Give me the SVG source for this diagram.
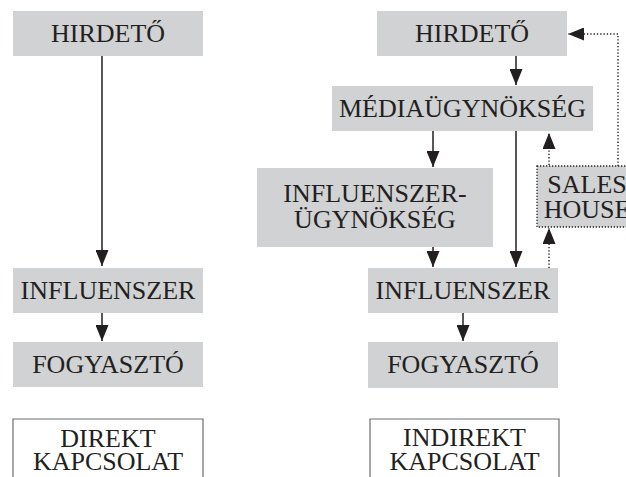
<svg xmlns="http://www.w3.org/2000/svg" width="626" height="477" viewBox="0 0 626 477">
<defs>
<style>
.box{fill:#d1d2d4;}
.out{fill:#fff;stroke:#6d6e70;stroke-width:1.2;}
.dbox{fill:#d1d2d4;stroke:#231f20;stroke-width:1.3;stroke-dasharray:1.3 1.7;}
text{font-family:"Liberation Serif","Times New Roman",serif;font-size:26px;fill:#231f20;text-anchor:middle;}
.c{fill:none;stroke:#231f20;stroke-width:1.5;}
.d{fill:none;stroke:#231f20;stroke-width:1.4;stroke-dasharray:1.3 2;}
</style>
<marker id="ah" markerUnits="userSpaceOnUse" markerWidth="16" markerHeight="13" refX="16" refY="6.5" orient="auto">
<path d="M0,0 L16,6.5 L0,13 z" fill="#231f20"/>
</marker>
</defs>
<g id="hirdeto-left"><rect class="box" x="13" y="11" width="190" height="45"/><text x="108" y="42">HIRDETŐ</text></g>
<g id="influenszer-left"><rect class="box" x="13" y="268" width="190" height="45"/><text x="108" y="299">INFLUENSZER</text></g>
<g id="fogyaszto-left"><rect class="box" x="13" y="342" width="190" height="45"/><text x="108" y="373">FOGYASZTÓ</text></g>
<g id="direkt"><path class="out" d="M13,478 V419 H203 V478"/><text x="108" y="447">DIREKT</text><text x="108" y="470">KAPCSOLAT</text></g>
<g id="hirdeto-right"><rect class="box" x="377" y="11" width="190" height="45"/><text x="472" y="42">HIRDETŐ</text></g>
<g id="mediaugynokseg"><rect class="box" x="332" y="86" width="261" height="45"/><text x="462.5" y="117">MÉDIAÜGYNÖKSÉG</text></g>
<g id="influenszer-ugynokseg"><rect class="box" x="257" y="168" width="236" height="79"/><text x="375" y="202">INFLUENSZER-</text><text x="375" y="228">ÜGYNÖKSÉG</text></g>
<g id="sales-house"><rect class="dbox" x="537" y="166" width="100" height="61"/><text x="587" y="193">SALES</text><text x="587" y="218">HOUSE</text></g>
<g id="influenszer-right"><rect class="box" x="368" y="268" width="190" height="45"/><text x="463" y="299">INFLUENSZER</text></g>
<g id="fogyaszto-right"><rect class="box" x="368" y="342" width="190" height="46"/><text x="463" y="373">FOGYASZTÓ</text></g>
<g id="indirekt"><path class="out" d="M370,478 V419 H559 V478"/><text x="464.5" y="446">INDIREKT</text><text x="464.5" y="470">KAPCSOLAT</text></g>
<g id="connectors">
<path class="c" d="M102,56 V266" marker-end="url(#ah)"/>
<path class="c" d="M102,313 V341" marker-end="url(#ah)"/>
<path class="c" d="M516,56 V85" marker-end="url(#ah)"/>
<path class="c" d="M433,131 V167" marker-end="url(#ah)"/>
<path class="c" d="M433,247 V267" marker-end="url(#ah)"/>
<path class="c" d="M516,131 V267" marker-end="url(#ah)"/>
<path class="c" d="M463,313 V341" marker-end="url(#ah)"/>
<path class="d" d="M549,165 V133" marker-end="url(#ah)"/>
<path class="d" d="M549,268 V228" marker-end="url(#ah)"/>
<path class="d" d="M618,166 V34 H568" marker-end="url(#ah)"/>
</g>
</svg>
